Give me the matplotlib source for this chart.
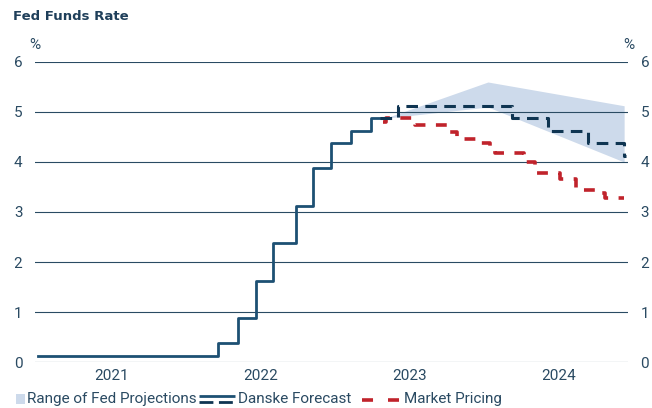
import matplotlib
matplotlib.use("Agg")
import matplotlib.pyplot as plt
from matplotlib.lines import Line2D
from matplotlib.patches import Rectangle

plt.rcParams['font.family'] = ['Roboto', 'DejaVu Sans']

# ---- data (x in decimal years) ----
actual_x = [2021.0, 2022.211, 2022.346, 2022.466, 2022.581, 2022.735, 2022.849, 2022.970,
            2023.104, 2023.238, 2023.299]
actual_y = [0.125, 0.375, 0.875, 1.625, 2.375, 3.125, 3.875, 4.375, 4.625, 4.875, 4.875]

danske_x = [2023.299, 2023.420, 2024.184, 2024.426, 2024.695, 2024.937, 2024.950]
danske_y = [4.875, 5.125, 4.875, 4.625, 4.375, 4.125, 4.125]

market_x = [2023.319, 2023.339, 2023.534, 2023.755, 2023.815, 2023.970, 2024.037, 2024.070,
            2024.265, 2024.339, 2024.507, 2024.614, 2024.762, 2024.809, 2024.937]
market_y = [4.80, 4.88, 4.74, 4.60, 4.46, 4.38, 4.30, 4.18,
            4.00, 3.78, 3.66, 3.44, 3.38, 3.28, 3.28]

range_x = [2023.332, 2024.023, 2024.937]
range_low = [4.875, 5.10, 4.00]
range_high = [4.875, 5.60, 5.125]

year_labels = ["2021", "2022", "2023", "2024"]
year_pos = [2021.5, 2022.5, 2023.5, 2024.5]
yticks = [0, 1, 2, 3, 4, 5, 6]
legend_labels = ["Range of Fed Projections", "Danske Forecast", "Market Pricing"]

navy = "#1d5073"
dnavy = "#0f3552"
red = "#c0232b"
shade = "#cddaeb"
txt = "#2a4a62"
grid_c = "#2a4b63"

W, H = 652, 408
fig = plt.figure(figsize=(W / 100, H / 100), dpi=100)
ax = fig.add_axes([35 / W, 1 - 362 / H, (628 - 35) / W, 300 / H])

ax.fill_between(range_x, range_low, range_high, color=shade, lw=0, zorder=1)
for y in yticks:
    ax.axhline(y, color=grid_c, lw=0.8, zorder=1.5)

ax.step(actual_x, actual_y, where='post', color=navy, lw=2.0, zorder=3)
ax.step(danske_x, danske_y, where='post', color=dnavy, lw=2.2, dashes=(3.8, 2.4), zorder=3)
ax.step(market_x, market_y, where='post', color=red, lw=2.6, dashes=(3.0, 2.9), zorder=2.5)

ax.set_xlim(2020.983, 2024.963)
ax.set_ylim(0, 6)
for s in ax.spines.values():
    s.set_visible(False)
ax.set_yticks(yticks)
ax.set_yticklabels([str(v) for v in yticks])
ax.set_xticks(year_pos)
ax.set_xticklabels(year_labels)
ax.tick_params(axis='both', length=0, colors=txt, labelsize=11)
ax.tick_params(axis='y', pad=9, labelright=True, right=False)
ax.tick_params(axis='x', pad=5)


def fx(px):
    return px / W


def fy(py):
    return 1 - py / H


fig.text(fx(13), fy(17), "Fed Funds Rate", fontsize=9.5, fontweight='bold',
         family=['DejaVu Sans'], color="#1f3f5a", va='center', ha='left')
fig.text(fx(35), fy(45), "%", fontsize=11, color=txt, va='center', ha='center')
fig.text(fx(629), fy(45), "%", fontsize=11, color=txt, va='center', ha='center')

# ---- legend (drawn in figure pixels) ----
ly = 399
fig.patches.append(Rectangle((fx(16), fy(404)), 9 / W, 10 / H, transform=fig.transFigure,
                             facecolor=shade, edgecolor='none'))
fig.text(fx(27), fy(ly), legend_labels[0], fontsize=11, color=txt, va='center', ha='left')

fig.lines.append(Line2D([fx(199), fx(235)], [fy(396), fy(396)], transform=fig.transFigure,
                        color=navy, lw=2.0, solid_capstyle='butt'))
fig.lines.append(Line2D([fx(199), fx(235)], [fy(401.5), fy(401.5)], transform=fig.transFigure,
                        color=dnavy, lw=2.0, dashes=(5, 2)))
fig.text(fx(238), fy(ly), legend_labels[1], fontsize=11, color=txt, va='center', ha='left')

fig.lines.append(Line2D([fx(362), fx(402)], [fy(400), fy(400)], transform=fig.transFigure,
                        color=red, lw=2.6, dashes=(3.05, 4.15)))
fig.text(fx(404), fy(ly), legend_labels[2], fontsize=11, color=txt, va='center', ha='left')

fig.savefig("out.png", dpi=100)
